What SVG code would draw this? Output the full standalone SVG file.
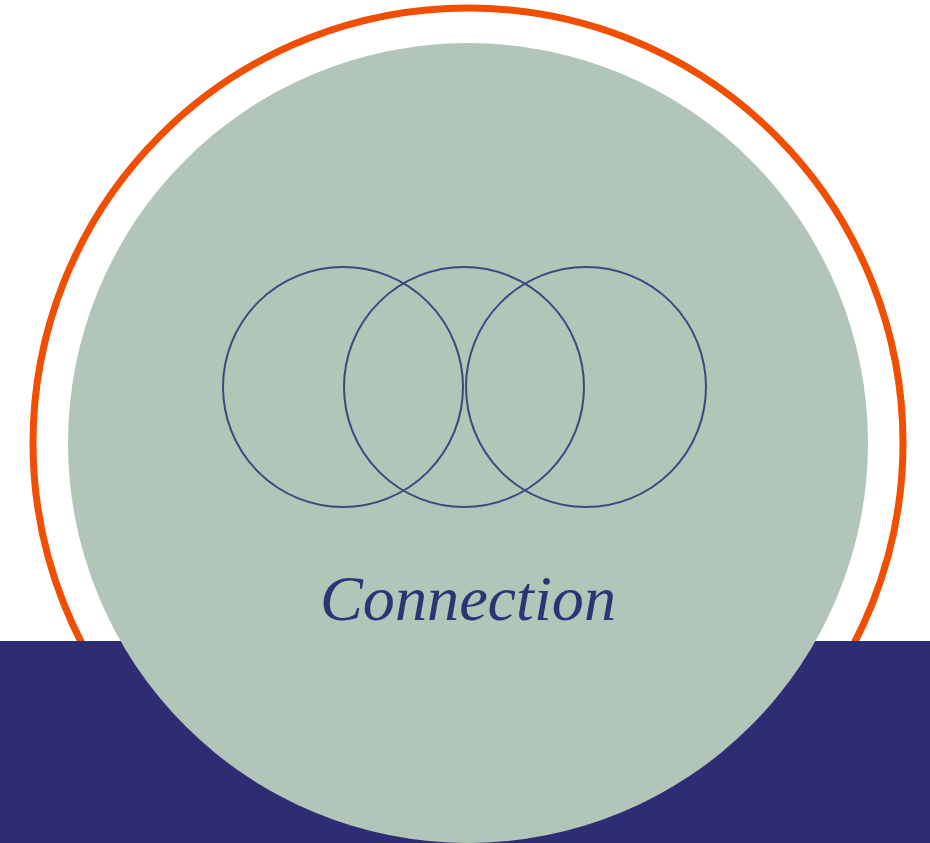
<svg xmlns="http://www.w3.org/2000/svg" width="930" height="843" viewBox="0 0 930 843">
<style>
.ring{fill:none;stroke:#f04e00;stroke-width:7}
.loop{fill:none;stroke:#3b4a7c;stroke-width:2}
.label{font-family:"Liberation Serif","DejaVu Serif",serif;font-style:italic;fill:#2c3574}
</style>
<rect width="930" height="843" fill="#ffffff"/>
<g id="ring"><circle class="ring" cx="468" cy="443" r="435"/></g>
<g id="band"><rect x="0" y="641" width="930" height="202" fill="#2e2d73"/></g>
<g id="disc"><circle cx="468" cy="443" r="400" fill="#b1c5b9"/></g>
<g id="circles">
<circle class="loop" cx="343" cy="387" r="120"/>
<circle class="loop" cx="464" cy="387" r="120"/>
<circle class="loop" cx="586" cy="387" r="120"/>
</g>
<g id="caption"><text class="label" x="468" y="620" font-size="64" text-anchor="middle" textLength="296" lengthAdjust="spacingAndGlyphs">Connection</text></g>
</svg>
